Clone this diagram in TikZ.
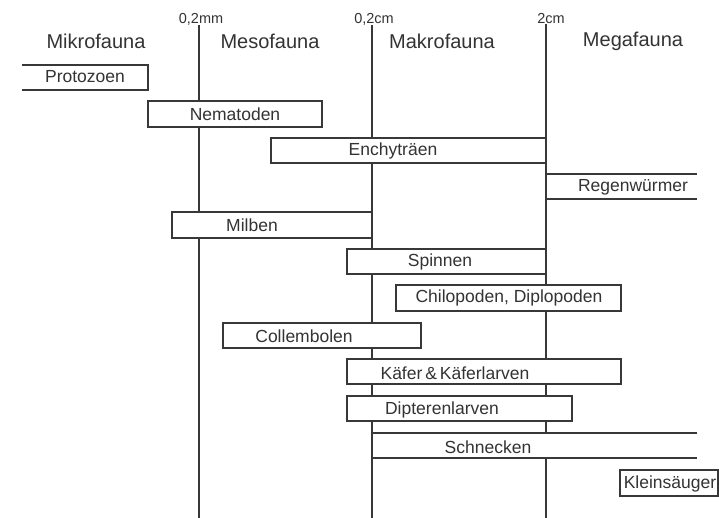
\documentclass[tikz,border=0pt]{standalone}
\usepackage{fontspec}
\setmainfont{Liberation Sans}
\begin{document}
\begin{tikzpicture}[x=1pt,y=-1pt,
  ln/.style={draw=black!78,line width=1.8pt},
  bar/.style={draw=black!78,line width=1.8pt,fill=white},
  lab/.style={inner sep=0pt,text=black!80,font=\fontsize{17.5}{17.5}\selectfont},
  head/.style={inner sep=0pt,text=black!80,font=\fontsize{20}{20}\selectfont},
  tick/.style={inner sep=0pt,text=black!80,font=\fontsize{14.5}{14.5}\selectfont}]
\useasboundingbox[fill=white] (0,0) rectangle (719,518);
% scale ticks
\node[tick] (t1) at (201,19) {0,2mm};
\node[tick] (t2) at (374,19) {0,2cm};
\node[tick] (t3) at (551,19) {2cm};
\coordinate (b1) at (199,518);
\coordinate (b2) at (372,518);
\coordinate (b3) at (546,518);
\draw[ln] (t1.south -| b1) -- (b1);
\draw[ln] (t2.south -| b2) -- (b2);
\draw[ln] (t3.south -| b3) -- (b3);
% headers
\node[head] (h1) at (96,41) {Mikrofauna};
\node[head] (h2) at (270,41) {Mesofauna};
\node[head] (h3) at (442,41) {Makrofauna};
\node[head] (h4) at (633,41) {Megafauna};
% bars
\fill[white] (22,65) rectangle (148,90);
\draw[ln] (22,65) -- (148,65) -- (148,90) -- (22,90);
\draw[bar] (148,101) rectangle (322,127);
\draw[bar] (271,138) rectangle (546,163);
\fill[white] (546,174) rectangle (697,199);
\draw[ln] (697,174) -- (546,174) -- (546,199) -- (697,199);
\draw[bar] (172,212) rectangle (372,238);
\draw[bar] (347,249) rectangle (546,274);
\draw[bar] (396,285) rectangle (621,311);
\draw[bar] (223,323) rectangle (421,348);
\draw[bar] (347,359) rectangle (621,384);
\draw[bar] (347,396) rectangle (572,421);
\fill[white] (372,433) rectangle (697,458);
\draw[ln] (697,433) -- (372,433) -- (372,458) -- (697,458);
\draw[bar] (620,470) rectangle (718,496);
% labels
\node[lab] (protozoen) at (85,77) {Protozoen};
\node[lab] (nematoden) at (235,114) {Nematoden};
\node[lab] (enchy) at (393,151) {Enchyträen};
\node[lab] (regen) at (633,187) {Regenwürmer};
\node[lab] (milben) at (252,225) {Milben};
\node[lab] (spinnen) at (440,262) {Spinnen};
\node[lab] (chilo) at (509,298) {Chilopoden, Diplopoden};
\node[lab] (collem) at (304,336) {Collembolen};
\node[lab] (kaefer) at (455,373) {Käfer\,\&\,Käferlarven};
\node[lab] (dipt) at (442,410) {Dipterenlarven};
\node[lab] (schneck) at (488,447) {Schnecken};
\node[lab] (klein) at (670,484) {Kleinsäuger};
\end{tikzpicture}
\end{document}
